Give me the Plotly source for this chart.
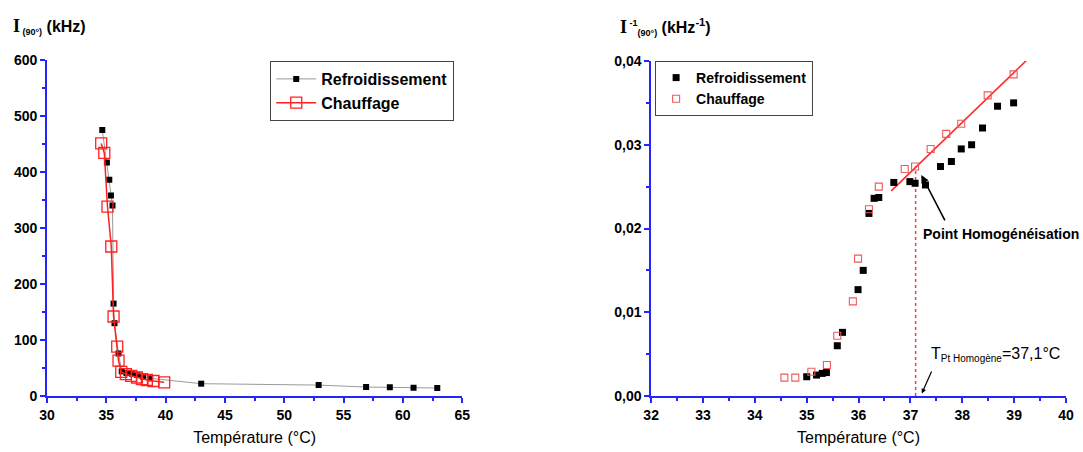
import plotly.graph_objects as go

# ---------------- Left chart: I(90°) vs temperature ----------------
left_cool_T = [34.66, 35.05, 35.25, 35.39, 35.52, 35.61, 35.69, 36.03, 36.3, 36.7,
               37.15, 37.6, 38.1, 38.7, 43.0, 52.9, 56.9, 58.9, 60.9, 62.9]
left_cool_I = [475, 417, 386, 358, 340, 165, 130, 76, 44, 41,
               40, 37.5, 34.5, 31.6, 22, 19.5, 16, 15.5, 14.8, 14.3]
left_heat_T = [34.57, 34.83, 35.1, 35.42, 35.61, 35.92, 36.03, 36.26, 36.65, 37.1,
               37.58, 38.0, 38.42, 38.98, 39.88]
left_heat_I = [451, 434, 338, 267, 142, 88, 63, 43, 39, 36,
               33, 30, 28.6, 26.8, 24.4]

# ---------------- Right chart: 1/I(90°) vs temperature ----------------
right_cool_T = [35.0, 35.19, 35.3, 35.38, 35.59, 35.69, 35.99, 36.09, 36.2, 36.3, 36.39,
                36.68, 36.99, 37.09, 37.29, 37.58, 37.79, 37.98, 38.18, 38.39, 38.68, 38.99]
right_cool_inv = [0.0023, 0.0025, 0.0027, 0.0028, 0.0060, 0.0076, 0.0127, 0.0150, 0.0218,
                  0.0236, 0.0237, 0.0255, 0.0256, 0.0254, 0.0252, 0.0274, 0.0280, 0.0295,
                  0.0300, 0.0320, 0.0346, 0.0350]
right_heat_T = [34.57, 34.78, 35.09, 35.39, 35.59, 35.89, 35.99, 36.2, 36.39, 36.89,
                37.09, 37.39, 37.69, 37.98, 38.49, 38.99]
right_heat_inv = [0.0022, 0.0022, 0.0029, 0.0037, 0.0072, 0.0113, 0.0164, 0.0223, 0.0250,
                  0.0271, 0.0274, 0.0295, 0.0313, 0.0325, 0.0359, 0.0384]

fit_T = [36.63, 39.31]
fit_inv = [0.0245, 0.0405]

T_homog = 37.1
homog_line_inv = [0.0, 0.0274]

left_xticks = [30, 35, 40, 45, 50, 55, 60, 65]
left_yticks = [0, 100, 200, 300, 400, 500, 600]
right_xticks = [32, 33, 34, 35, 36, 37, 38, 39, 40]
right_yticks = [0.0, 0.01, 0.02, 0.03, 0.04]

W, H = 1083, 452
BLUE = "#2424ff"
FONT = "Arial, 'Liberation Sans', sans-serif"
SERIF = "Times New Roman, Liberation Serif, serif"

# plot area in pixels
ML, MR, MT, MB = 46.7, W - 1066, 60, H - 396
PW = W - ML - MR
PH = H - MT - MB

fig = go.Figure()

fig.add_trace(go.Scatter(
    x=left_cool_T, y=left_cool_I, mode="lines+markers", name="Refroidissement",
    line=dict(color="#9a9a9a", width=1),
    marker=dict(symbol="square", size=6, color="black"),
    xaxis="x", yaxis="y", legend="legend"))
fig.add_trace(go.Scatter(
    x=left_heat_T, y=left_heat_I, mode="lines+markers", name="Chauffage",
    line=dict(color="#ff2020", width=1.5),
    marker=dict(symbol="square-open", size=11, color="#ff2020", line=dict(width=1.3)),
    xaxis="x", yaxis="y", legend="legend"))

fig.add_trace(go.Scatter(
    x=fit_T, y=fit_inv, mode="lines", showlegend=False,
    line=dict(color="#ff2a2a", width=1.6), xaxis="x2", yaxis="y2"))
fig.add_trace(go.Scatter(
    x=[T_homog, T_homog], y=homog_line_inv, mode="lines", showlegend=False,
    line=dict(color="#ff3a3a", width=1.5, dash="dot"), xaxis="x2", yaxis="y2"))
fig.add_trace(go.Scatter(
    x=right_cool_T, y=right_cool_inv, mode="markers", name="Refroidissement",
    marker=dict(symbol="square", size=7, color="black"),
    xaxis="x2", yaxis="y2", legend="legend2"))
fig.add_trace(go.Scatter(
    x=right_heat_T, y=right_heat_inv, mode="markers", name="Chauffage",
    marker=dict(symbol="square-open", size=7, color="#f05a5a", line=dict(width=1.1)),
    xaxis="x2", yaxis="y2", legend="legend2"))

def axis(rng, ticks, minor_dtick, domain, anchor, fmt=None, title=None):
    d = dict(range=rng, domain=domain, anchor=anchor, tickvals=ticks, automargin=False,
             showline=True, linecolor=BLUE, linewidth=1.6, mirror=False,
             showgrid=False, zeroline=False, ticks="outside", ticklen=5,
             tickwidth=1.5, tickcolor=BLUE,
             tickfont=dict(family=FONT, size=14, color="black", weight="bold"),
             minor=dict(ticks="outside", ticklen=3, tickwidth=1.5, tickcolor=BLUE,
                        dtick=minor_dtick, showgrid=False))
    if fmt:
        d["tickformat"] = fmt
    if title:
        d["title"] = dict(text=title, font=dict(family=FONT, size=16, color="black"),
                          standoff=10)
    return d

LX = [0, (462 - ML) / PW]
RX = [(651 - ML) / PW, 1]
LY = [0, 1]
RY = [0, (396 - 61) / PH]

def fx(p):   # reference pixel x -> paper fraction
    return (p - ML) / PW

def fy(p):   # reference pixel y -> paper fraction
    return 1 - (p - MT) / PH

fig.update_layout(
    width=W, height=H, margin=dict(l=ML, r=MR, t=MT, b=MB, pad=0, autoexpand=False),
    paper_bgcolor="white", plot_bgcolor="white",
    separators=", ",
    font=dict(family=FONT, color="black"),
    xaxis=axis([30, 65], left_xticks, 2.5, LX, "y", title="Température (°C)"),
    yaxis=axis([0, 600], left_yticks, 50, LY, "x"),
    xaxis2=axis([32, 40], right_xticks, 0.5, RX, "y2", title="Température (°C)"),
    yaxis2=axis([0, 0.04], right_yticks, 0.005, RY, "x2", fmt=".2f"),
    legend=dict(x=fx(270), y=fy(61), xanchor="left", yanchor="top",
                bgcolor="white", bordercolor="#444", borderwidth=1,
                font=dict(family=FONT, size=16, color="black", weight="bold"),
                tracegroupgap=0, itemwidth=40),
    legend2=dict(x=fx(655), y=fy(61), xanchor="left", yanchor="top",
                 bgcolor="white", bordercolor="#444", borderwidth=1,
                 font=dict(family=FONT, size=14, color="black", weight="bold"),
                 tracegroupgap=0, itemwidth=30),
    showlegend=True,
)

annotations = [
    dict(xref="paper", yref="paper", x=fx(11), y=fy(27),
         xanchor="left", yanchor="middle", showarrow=False,
         text=("<span style='font-family:" + SERIF + ";font-size:18px'><b>I</b></span>"
               "<sub><span style='font-size:9px'><b> (90°)</b></span></sub>"
               "<b> (kHz)</b>"),
         font=dict(family=FONT, size=16, color="black")),
    dict(xref="paper", yref="paper", x=fx(618), y=fy(27),
         xanchor="left", yanchor="middle", showarrow=False,
         text=("<span style='font-family:" + SERIF + ";font-size:18px'><b>I</b></span>"
               "<sup><span style='font-size:9px'><b> -1</b></span></sup>"
               "<sub><span style='font-size:9px'><b>(90°)</b></span></sub>"
               "<b> (kHz<sup>-1</sup>)</b>"),
         font=dict(family=FONT, size=16, color="black")),
    # Point Homogénéisation
    dict(xref="x2", yref="y2", x=37.2, y=0.0193, xanchor="left", yanchor="middle",
         showarrow=False, text="<b>Point Homogénéisation</b>",
         font=dict(family=FONT, size=14, color="black")),
    dict(xref="x2", yref="y2", x=37.21, y=0.0264, axref="x2", ayref="y2",
         ax=37.68, ay=0.0208, text="", showarrow=True, arrowhead=2, arrowsize=1,
         arrowwidth=1.6, arrowcolor="black"),
    # T Pt Homogène
    dict(xref="x2", yref="y2", x=37.36, y=0.0049, xanchor="left", yanchor="middle",
         showarrow=False,
         text="T<sub><span style='font-size:10px'>Pt Homogène</span></sub>=37,1°C",
         font=dict(family=FONT, size=16, color="black")),
    dict(xref="x2", yref="y2", x=37.22, y=0.0003, axref="x2", ayref="y2",
         ax=37.42, ay=0.0031, text="", showarrow=True, arrowhead=2, arrowsize=0.8,
         arrowwidth=1.2, arrowcolor="black"),
]
fig.update_layout(annotations=annotations)

fig.write_html(
    "out.html",
    config={"displayModeBar": False},
    post_script="document.body.style.margin='0';document.body.style.overflow='hidden';",
)
